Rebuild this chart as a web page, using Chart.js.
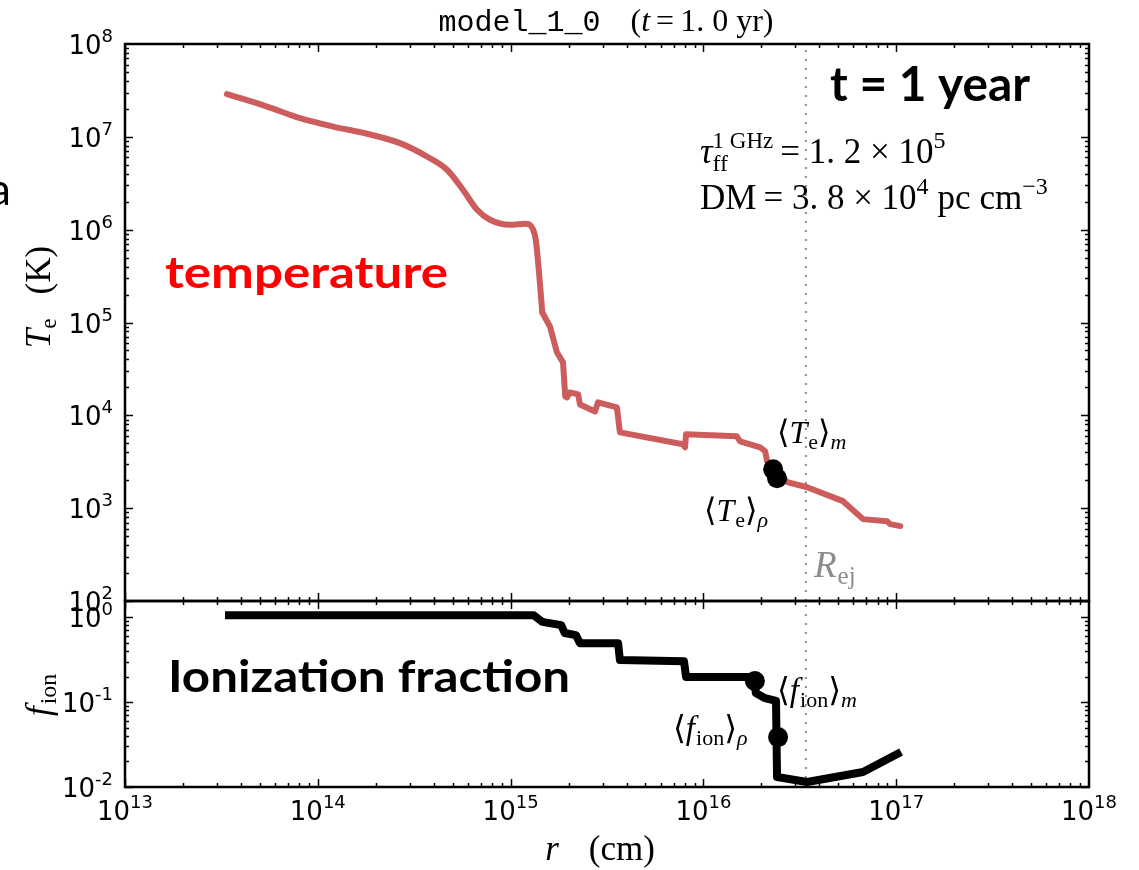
<!DOCTYPE html>
<html>
<head>
<meta charset="utf-8">
<script src="https://cdn.jsdelivr.net/npm/chart.js@4.4.1/dist/chart.umd.min.js"></script>
<style>
html, body { margin: 0; padding: 0; background: #fff; }
#wrap { width: 1139px; height: 870px; position: relative; }
</style>
</head>
<body>
<div id="wrap"><canvas id="c" width="1139" height="870"></canvas></div>
<script>
// radius (cm) and electron temperature (K), top panel
const tempR = [3.38e13, 5.46e13, 8.09e13, 1.20e14, 1.80e14, 2.67e14, 3.68e14, 4.68e14, 5.66e14, 6.70e14,
  7.82e14, 9.93e14, 1.19e15, 1.31e15, 1.35e15, 1.40e15, 1.46e15, 1.60e15, 1.74e15, 1.87e15,
  1.92e15, 1.96e15, 2.03e15, 2.24e15, 2.29e15, 2.74e15, 2.84e15, 3.56e15, 3.69e15, 7.83e15,
  8.03e15, 8.13e15, 1.49e16, 1.55e16, 1.97e16, 2.09e16, 2.14e16, 2.35e16, 2.72e16, 3.45e16,
  5.30e16, 6.73e16, 8.96e16, 9.30e16, 1.05e17];
const tempT = [2.88e7, 2.12e7, 1.59e7, 1.29e7, 1.08e7, 8.55e6, 6.14e6, 4.42e6, 2.69e6, 1.64e6,
  1.28e6, 1.13e6, 1.16e6, 1.0e6, 7.8e5, 3.72e5, 1.28e5, 9.06e4, 4.75e4, 3.72e4,
  1.60e4, 1.56e4, 1.77e4, 1.68e4, 1.31e4, 1.10e4, 1.38e4, 1.22e4, 6.56e3, 4.88e3,
  4.53e3, 6.25e3, 5.94e3, 5.25e3, 4.53e3, 4.10e3, 3.20e3, 2.50e3, 1.91e3, 1.68e3,
  1.19e3, 762, 724, 673, 640];
// the part before this index is a smooth profile, after it the steps begin
const tempSmoothEnd = 16;

// radius (cm) and ionization fraction, bottom panel
const ionR = [3.30e13, 1.32e15, 1.46e15, 1.83e15, 1.91e15, 2.18e15, 2.29e15, 3.61e15, 3.69e15, 7.93e15,
  8.13e15, 1.83e16, 1.87e16, 2.09e16, 2.38e16, 2.41e16, 3.45e16, 6.73e16, 1.06e17];
const ionF = [1.05, 1.05, 0.88, 0.805, 0.65, 0.614, 0.494, 0.494, 0.312, 0.303,
  0.197, 0.197, 0.128, 0.111, 0.103, 0.0131, 0.01146, 0.0150, 0.0258];

// weighted averages: [mass, density]
const avgTempR = [2.30e16, 2.41e16];
const avgTemp = [2.62e3, 2.10e3];
const avgIonR = [1.85e16, 2.44e16];
const avgIon = [0.177, 0.0387];

// ejecta radius
const rEj = 3.4e16;

// axis limits and tick exponents
const xRange = [1e13, 1e18];
const tRange = [1e2, 1e8];
const fRange = [1e-2, 1.55];
const xTickExp = [13, 14, 15, 16, 17, 18];
const tTickExp = [2, 3, 4, 5, 6, 7, 8];
const fTickExp = [-2, -1, 0];

const SERIF = '"Liberation Serif", "DejaVu Serif", serif';
const SANS = '"DejaVu Sans", sans-serif';
const BOLD = 'Lato, "Open Sans", sans-serif';
const ser = (px, it) => (it ? 'italic ' : '') + px + 'px ' + SERIF;

const pts = (xs, ys) => xs.map((x, i) => ({x: x, y: ys[i]}));

// draw a row of text pieces (math-like runs)
function runs(ctx, x, y, parts, align) {
  let w = 0;
  parts.forEach(p => {
    ctx.font = p.f;
    p.w = ctx.measureText(p.t).width;
    if (p.adv !== false) w += p.w + (p.gap || 0);
  });
  let cx = align === 'center' ? x - w / 2 : align === 'right' ? x - w : x;
  parts.forEach(p => {
    ctx.font = p.f;
    if (p.c) ctx.fillStyle = p.c;
    ctx.fillText(p.t, cx, y + (p.dy || 0));
    if (p.adv !== false) cx += p.w + (p.gap || 0);
  });
}

// bold callout text squeezed to a given width
function fitText(ctx, text, x, y, width, font, color) {
  ctx.save();
  ctx.font = font;
  ctx.fillStyle = color;
  const w = ctx.measureText(text).width;
  ctx.translate(x, y);
  ctx.scale(width / w, 1);
  ctx.fillText(text, 0, 0);
  ctx.restore();
}

function powParts(exp) {
  return [
    {t: '10', f: '26px ' + SANS},
    {t: String(exp), f: '18px ' + SANS, dy: -12}
  ];
}

function avgLabel(base, sub, idx, size) {
  const s = Math.round(size * 0.68);
  return [
    {t: '⟨', f: ser(size)},
    {t: base, f: ser(size, true), gap: 1},
    {t: sub, f: ser(s), dy: 6},
    {t: '⟩', f: ser(size)},
    {t: idx, f: ser(s, true), dy: 6}
  ];
}

function seg(ctx, x1, y1, x2, y2) {
  ctx.beginPath();
  ctx.moveTo(x1, y1);
  ctx.lineTo(x2, y2);
  ctx.stroke();
}

const decor = {
  id: 'decor',
  afterDatasetsDraw(chart) {
    const ctx = chart.ctx;
    const x = chart.scales.x, yT = chart.scales.yT, yF = chart.scales.yF;
    ctx.save();
    ctx.strokeStyle = '#000';
    ctx.fillStyle = '#000';
    ctx.lineWidth = 1.5;

    [yT, yF].forEach(y => {
      const top = y.top, bot = y.bottom, l = x.left, r = x.right;
      // x ticks, inward on both edges
      for (let e = 13; e < 18; e++) {
        for (let k = 1; k < 10; k++) {
          const px = Math.round(x.getPixelForValue(k * Math.pow(10, e))) + 0.5;
          const len = k === 1 ? 8 : 4;
          seg(ctx, px, top, px, top + len);
          seg(ctx, px, bot, px, bot - len);
        }
      }
      // y ticks
      const lo = Math.floor(Math.log10(y.min)), hi = Math.ceil(Math.log10(y.max));
      for (let e = lo; e < hi; e++) {
        for (let k = 1; k < 10; k++) {
          const v = k * Math.pow(10, e);
          if (v < y.min || v > y.max) continue;
          const py = Math.round(y.getPixelForValue(v)) + 0.5;
          const len = k === 1 ? 8 : 4;
          seg(ctx, l, py, l + len, py);
          seg(ctx, r, py, r - len, py);
        }
      }
    });

    // panel frames
    ctx.lineWidth = 2.5;
    ctx.strokeRect(x.left, yT.top, x.right - x.left, yT.bottom - yT.top);
    ctx.strokeRect(x.left, yF.top, x.right - x.left, yF.bottom - yF.top);

    // tick labels
    ctx.textBaseline = 'alphabetic';
    tTickExp.forEach(e => {
      const py = yT.getPixelForValue(Math.pow(10, e));
      runs(ctx, 113, py + 10, powParts(e), 'right');
    });
    fTickExp.forEach(e => {
      const py = yF.getPixelForValue(Math.pow(10, e));
      runs(ctx, 113, py + 10, powParts(e), 'right');
    });
    xTickExp.forEach(e => {
      const px = x.getPixelForValue(Math.pow(10, e));
      runs(ctx, px, yF.bottom + 33, powParts(e), 'center');
    });

    // title
    runs(ctx, 606, 31, [
      {t: 'model_1_0', f: '30px "Liberation Mono", "DejaVu Sans Mono", monospace', gap: 30},
      {t: '(', f: ser(32)},
      {t: 't', f: ser(32, true), gap: 6},
      {t: '=', f: ser(32), gap: 6},
      {t: '1. 0', f: ser(32), gap: 8},
      {t: 'yr)', f: ser(32)}
    ], 'center');

    // axis titles
    ctx.save();
    ctx.translate(50, 297);
    ctx.rotate(-Math.PI / 2);
    runs(ctx, 0, 0, [
      {t: 'T', f: ser(35, true)},
      {t: 'e', f: ser(23), dy: 6, gap: 24},
      {t: '(K)', f: ser(35)}
    ], 'center');
    ctx.restore();

    ctx.save();
    ctx.translate(50, 695);
    ctx.rotate(-Math.PI / 2);
    runs(ctx, 0, 0, [
      {t: 'f', f: ser(36, true), gap: 2},
      {t: 'ion', f: ser(24), dy: 6}
    ], 'center');
    ctx.restore();

    runs(ctx, 600, 860, [
      {t: 'r', f: ser(35, true), gap: 30},
      {t: '(cm)', f: ser(35)}
    ], 'center');

    // numbers in the corner
    runs(ctx, 700, 163, [
      {t: 'τ', f: ser(35, true)},
      {t: 'ff', f: ser(24), dy: 8, adv: false},
      {t: '1 GHz', f: ser(23), dy: -15, gap: 7},
      {t: '= 1. 2 × 10', f: ser(35)},
      {t: '5', f: ser(24), dy: -15}
    ]);
    runs(ctx, 700, 209, [
      {t: 'DM', f: ser(35), gap: 7},
      {t: '= 3. 8 × 10', f: ser(35)},
      {t: '4', f: ser(24), dy: -15, gap: 9},
      {t: 'pc cm', f: ser(35)},
      {t: '−3', f: ser(24), dy: -15}
    ]);

    // averages and ejecta radius labels
    runs(ctx, 777, 443, avgLabel('T', 'e', 'm', 32));
    runs(ctx, 704, 521, avgLabel('T', 'e', 'ρ', 32));
    runs(ctx, 777, 701, avgLabel('f', 'ion', 'm', 33));
    runs(ctx, 673, 739, avgLabel('f', 'ion', 'ρ', 33));
    runs(ctx, 814, 577, [
      {t: 'R', f: ser(37, true), c: '#8c8c8c', gap: 1},
      {t: 'ej', f: ser(25), dy: 7, c: '#8c8c8c'}
    ]);

    // bold callouts
    fitText(ctx, 't = 1 year', 830, 101, 200, 'bold 48px ' + BOLD, '#000');
    fitText(ctx, 'temperature', 165, 288, 283, 'bold 44px ' + BOLD, '#ff0000');
    fitText(ctx, 'Ionization fraction', 168, 692, 402, 'bold 44px ' + BOLD, '#000');
    // leftover letter cut by the left edge
    ctx.fillStyle = '#000';
    ctx.font = '44px ' + BOLD;
    ctx.fillText('a', -11, 205);
    ctx.restore();
  }
};

const dotted = {borderColor: '#8c8c8c', borderWidth: 2, borderDash: [2, 7], pointRadius: 0, fill: false};
const tempLine = {yAxisID: 'yT', borderColor: 'rgb(205,92,92)', borderWidth: 6, pointRadius: 0,
  borderJoinStyle: 'round', borderCapStyle: 'round'};

new Chart(document.getElementById('c').getContext('2d'), {
  type: 'line',
  data: {
    datasets: [
      {data: pts(avgTempR, avgTemp), yAxisID: 'yT', showLine: false, pointRadius: 10,
        pointBackgroundColor: '#000', pointBorderWidth: 0},
      {data: pts(avgIonR, avgIon), yAxisID: 'yF', showLine: false, pointRadius: 10,
        pointBackgroundColor: '#000', pointBorderWidth: 0},
      Object.assign({data: pts(tempR.slice(0, tempSmoothEnd + 1), tempT.slice(0, tempSmoothEnd + 1)),
        cubicInterpolationMode: 'monotone'}, tempLine),
      Object.assign({data: pts(tempR.slice(tempSmoothEnd), tempT.slice(tempSmoothEnd)), tension: 0}, tempLine),
      {data: pts(ionR, ionF), yAxisID: 'yF', borderColor: '#000', borderWidth: 8,
        pointRadius: 0, tension: 0, borderJoinStyle: 'round', borderCapStyle: 'butt'},
      Object.assign({data: [{x: rEj, y: tRange[0]}, {x: rEj, y: tRange[1]}], yAxisID: 'yT'}, dotted),
      Object.assign({data: [{x: rEj, y: fRange[0]}, {x: rEj, y: fRange[1]}], yAxisID: 'yF'}, dotted)
    ]
  },
  options: {
    responsive: false,
    animation: false,
    devicePixelRatio: 1,
    events: [],
    layout: {padding: {left: 125, right: 50, top: 44, bottom: 83}},
    plugins: {legend: {display: false}, tooltip: {enabled: false}},
    scales: {
      x: {type: 'logarithmic', min: xRange[0], max: xRange[1], display: false},
      yT: {type: 'logarithmic', position: 'left', min: tRange[0], max: tRange[1], display: false,
        stack: 'panels', stackWeight: 557, weight: 2},
      yF: {type: 'logarithmic', position: 'left', min: fRange[0], max: fRange[1], display: false,
        stack: 'panels', stackWeight: 186, weight: 1}
    }
  },
  plugins: [decor]
});
</script>
</body>
</html>
